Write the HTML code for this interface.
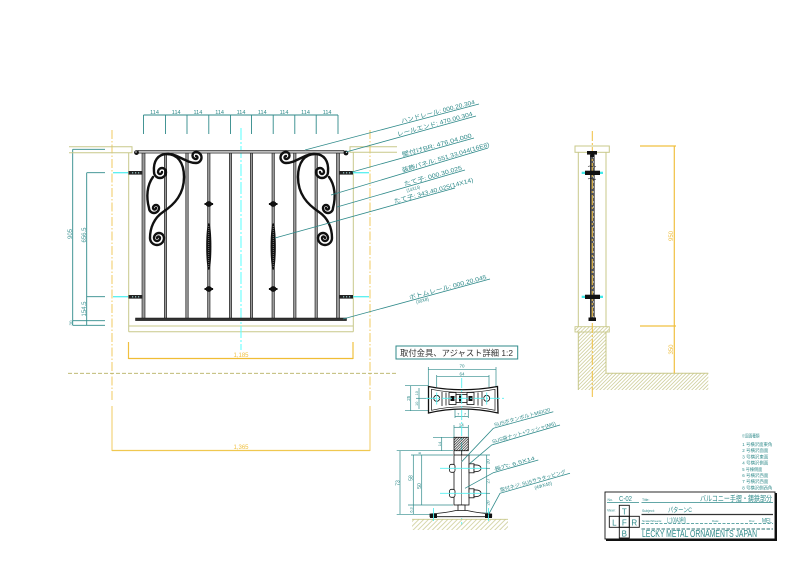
<!DOCTYPE html>
<html><head><meta charset="utf-8">
<style>
html,body{margin:0;padding:0;background:#fff;width:794px;height:561px;overflow:hidden}
svg{display:block}
text{font-family:"Liberation Sans","Noto Sans CJK JP",sans-serif}
</style></head><body>
<svg width="794" height="561" viewBox="0 0 794 561" xmlns="http://www.w3.org/2000/svg">
<defs>
<pattern id="hO" width="2.6" height="2.6" patternUnits="userSpaceOnUse" patternTransform="rotate(45)"><line x1="0.5" y1="0" x2="0.5" y2="2.6" stroke="#c6c68a" stroke-width="0.7"/></pattern>
<pattern id="hG" width="3.4" height="3.4" patternUnits="userSpaceOnUse" patternTransform="rotate(45)"><line x1="0.5" y1="0" x2="0.5" y2="3.4" stroke="#c6c68a" stroke-width="0.7"/></pattern>
<pattern id="hB" width="1.8" height="1.8" patternUnits="userSpaceOnUse" patternTransform="rotate(45)"><line x1="0.5" y1="0" x2="0.5" y2="1.8" stroke="#222" stroke-width="0.7"/></pattern>
<g id="scr" fill="none" stroke="#111" stroke-width="2.4" stroke-linecap="round">
<path d="M162,172 A2,2 0 0 1 158,172 A4,4 0 0 1 166,172 A6,6 0 0 1 154,172 C153,161 158,154 167,154 C177,154 184,162 184,177 C184,194 175,204 163,212 C154,218 150,228 150,238 A7,7 0 0 0 164,238 A5,5 0 0 0 154,238 A3,3 0 0 0 160,238 A1.5,1.5 0 0 0 157,238"/>
<path d="M153,177 C147,185 146,197 149,208 A5,5 0 0 0 159,208 A3,3 0 0 0 153,208 A1.5,1.5 0 0 0 156,208"/>
<path d="M168,154 C178,154 186,163 196,163 A5.5,5.5 0 0 0 196,152 A3.5,3.5 0 0 0 196,159 A1.5,1.5 0 0 0 196,156"/>
</g>
<g id="orn">
<rect x="204.5" y="203" width="8.6" height="2" fill="#111"/>
<ellipse cx="208.8" cy="204" rx="3.2" ry="2.9" fill="#111"/>
<rect x="204.5" y="288" width="8.6" height="2" fill="#111"/>
<ellipse cx="208.8" cy="289" rx="3.2" ry="2.9" fill="#111"/>
<ellipse cx="208.8" cy="246.5" rx="2.6" ry="23.5" fill="#111"/>
<line x1="208.8" y1="226" x2="208.8" y2="267" stroke="#ddd" stroke-width="0.7" stroke-dasharray="0.8 1.2"/>
</g>
</defs>

<!-- ===== top dimension ===== -->
<g stroke="#2f8a8a" stroke-width="0.9">
<line x1="143.5" y1="115" x2="338" y2="115"/>
<line x1="143.5" y1="115" x2="143.5" y2="134"/><line x1="165.5" y1="115" x2="165.5" y2="134"/>
<line x1="187" y1="115" x2="187" y2="134"/><line x1="208.8" y1="115" x2="208.8" y2="134"/>
<line x1="230.5" y1="115" x2="230.5" y2="134"/><line x1="251.5" y1="115" x2="251.5" y2="134"/>
<line x1="273.2" y1="115" x2="273.2" y2="134"/><line x1="294.8" y1="115" x2="294.8" y2="134"/>
<line x1="316.2" y1="115" x2="316.2" y2="134"/><line x1="338" y1="115" x2="338" y2="134"/>
</g>
<g fill="#2f8a8a" font-size="5.5" text-anchor="middle">
<text x="154.5" y="114">114</text><text x="176.2" y="114">114</text><text x="197.9" y="114">114</text>
<text x="219.6" y="114">114</text><text x="241" y="114">114</text><text x="262.3" y="114">114</text>
<text x="284" y="114">114</text><text x="305.5" y="114">114</text><text x="327.1" y="114">114</text>
</g>

<!-- ===== left dims ===== -->
<g stroke="#2f8a8a" stroke-width="0.9">
<line x1="72.7" y1="149.3" x2="105" y2="149.3"/>
<line x1="72.7" y1="149.3" x2="72.7" y2="325.3"/>
<line x1="72.7" y1="320.7" x2="105" y2="320.7"/>
<line x1="72.7" y1="325.3" x2="105" y2="325.3"/>
<line x1="86.7" y1="172.7" x2="105" y2="172.7"/>
<line x1="86.7" y1="296.7" x2="105" y2="296.7"/>
<line x1="86.7" y1="172.7" x2="86.7" y2="325.3"/>
</g>
<g fill="#4a9a9a" font-size="6" text-anchor="middle">
<text transform="translate(72,234) rotate(-90)">905</text>
<text transform="translate(86,235) rotate(-90)">656.5</text>
<text transform="translate(86,309) rotate(-90)">154.5</text>
<text transform="translate(72.5,323) rotate(-90)" font-size="4.5">30</text>
</g>

<!-- ===== yellow dash-dot lines and overall dims ===== -->
<g stroke="#f2cf6e" stroke-width="1.1" fill="none">
<line x1="112" y1="130" x2="112" y2="401" stroke-dasharray="9 2 1.5 2"/>
<line x1="370" y1="130" x2="370" y2="401" stroke-dasharray="9 2 1.5 2"/>
<line x1="112" y1="406" x2="112" y2="451"/>
<line x1="370" y1="406" x2="370" y2="451"/>
<line x1="112" y1="450.5" x2="370" y2="450.5" stroke="#f0c850" stroke-width="1.2"/>
<line x1="128.5" y1="342" x2="128.5" y2="359" stroke="#f0c040" stroke-width="1.2"/>
<line x1="353" y1="342" x2="353" y2="359" stroke="#f0c040" stroke-width="1.2"/>
<line x1="128.5" y1="358.5" x2="353" y2="358.5" stroke="#f0bd35" stroke-width="1.2"/>
</g>
<g fill="#f0c040" font-size="6" text-anchor="middle">
<text x="241" y="357">1,185</text>
<text x="241" y="449">1,365</text>
</g>

<!-- ===== wall outline (olive) ===== -->
<g stroke="#c8c88a" stroke-width="1" fill="none">
<polyline points="69,146.7 132,146.7 132,152.7 69,152.7"/>
<line x1="128.7" y1="152.7" x2="128.7" y2="331.7"/>
<polyline points="397,146.7 350,146.7 350,152.3 397,152.3"/>
<line x1="353.3" y1="152.3" x2="353.3" y2="331.7"/>
<line x1="128.7" y1="326" x2="353.3" y2="326"/>
<line x1="128.7" y1="331.7" x2="353.3" y2="331.7"/>
</g>
<line x1="68" y1="373.3" x2="397" y2="373.3" stroke="#b5b060" stroke-width="0.9" stroke-dasharray="4 2"/>

<!-- cyan center + bracket lines -->
<line x1="241" y1="128" x2="241" y2="350" stroke="#6ff" stroke-width="1.1" stroke-dasharray="12 2 2 2"/>
<g stroke="#55f0f0" stroke-width="1.3">
<line x1="113" y1="172.7" x2="128" y2="172.7"/><line x1="113" y1="296.7" x2="128" y2="296.7"/>
<line x1="353" y1="172.7" x2="369" y2="172.7"/><line x1="353" y1="296.7" x2="369" y2="296.7"/>
</g>

<!-- ===== railing ===== -->
<g fill="#9a9a9a" stroke="#111" stroke-width="0.6">
<rect x="142" y="153" width="3" height="166"/>
<rect x="164.3" y="153" width="2.4" height="166"/>
<rect x="185.8" y="153" width="2.4" height="166"/>
<rect x="207.6" y="153" width="2.4" height="166"/>
<rect x="229.3" y="153" width="2.4" height="166"/>
<rect x="250.3" y="153" width="2.4" height="166"/>
<rect x="272" y="153" width="2.4" height="166"/>
<rect x="293.6" y="153" width="2.4" height="166"/>
<rect x="315" y="153" width="2.4" height="166"/>
<rect x="336.5" y="153" width="3" height="166"/>
</g>
<rect x="138" y="150.3" width="206" height="2.8" fill="#bbb" stroke="#222" stroke-width="0.6"/>
<circle cx="136.5" cy="152.6" r="2.4" fill="#111"/><circle cx="136" cy="152" r="0.7" fill="#fff"/>
<circle cx="346" cy="153" r="2.4" fill="#111"/><circle cx="346.5" cy="152.4" r="0.7" fill="#fff"/>
<rect x="135.5" y="318" width="211" height="2.6" fill="#333" stroke="#111" stroke-width="0.5"/>
<g fill="#222">
<rect x="128.5" y="171" width="14" height="3.6"/><rect x="128.5" y="295" width="14" height="3.6"/>
<rect x="339" y="171" width="14" height="3.6"/><rect x="339" y="295" width="14" height="3.6"/>
</g>
<g fill="#9cc">
<rect x="132" y="172.2" width="1.2" height="1.2"/><rect x="135" y="172.2" width="1.2" height="1.2"/><rect x="138" y="172.2" width="1.2" height="1.2"/>
<rect x="132" y="296.2" width="1.2" height="1.2"/><rect x="135" y="296.2" width="1.2" height="1.2"/><rect x="138" y="296.2" width="1.2" height="1.2"/>
<rect x="343" y="172.2" width="1.2" height="1.2"/><rect x="346" y="172.2" width="1.2" height="1.2"/><rect x="349" y="172.2" width="1.2" height="1.2"/>
<rect x="343" y="296.2" width="1.2" height="1.2"/><rect x="346" y="296.2" width="1.2" height="1.2"/><rect x="349" y="296.2" width="1.2" height="1.2"/>
</g>
<use href="#scr"/>
<use href="#scr" transform="translate(482,0) scale(-1,1)"/>
<use href="#orn"/>
<use href="#orn" transform="translate(64.4,0)"/>

<!-- ===== leaders main ===== -->
<g stroke="#2f8a8a" stroke-width="0.8">
<line x1="305" y1="150" x2="479" y2="104"/>
<line x1="346" y1="152" x2="476" y2="116"/>
<line x1="352" y1="172" x2="474" y2="138"/>
<line x1="331" y1="195" x2="488" y2="148"/>
<line x1="337" y1="207" x2="465" y2="170"/>
<line x1="275" y1="238" x2="455" y2="188"/>
<line x1="343" y1="319" x2="490" y2="279"/>
</g>
<g fill="#2f8a8a" font-size="6">
<text transform="translate(402,124.4) rotate(-14.8)" y="-1.2" textLength="76" lengthAdjust="spacingAndGlyphs">ハンドレール: 000.20.304</text>
<text transform="translate(398,137.6) rotate(-15.5)" y="-1.2" textLength="78" lengthAdjust="spacingAndGlyphs">レールエンド: 470.00.304</text>
<text transform="translate(403,157.8) rotate(-15.6)" y="-1.2" textLength="72" lengthAdjust="spacingAndGlyphs">壁付けBR: 476.04.000</text>
<text transform="translate(403,173.4) rotate(-16.7)" y="-1.2" textLength="91" lengthAdjust="spacingAndGlyphs">装飾パネル: 551.33.044(16E8)</text>
<text transform="translate(405,187.3) rotate(-16.1)" y="-1.2" textLength="60" lengthAdjust="spacingAndGlyphs">たて子: 000.30.025</text>
<text transform="translate(407,192.3) rotate(-16.1)" font-size="4.8" textLength="14" lengthAdjust="spacingAndGlyphs">(14X14)</text>
<text transform="translate(395,204.7) rotate(-15.5)" y="-1.2" textLength="82" lengthAdjust="spacingAndGlyphs">たて子: 343.40.025(14X14)</text>
<text transform="translate(410,300.8) rotate(-15.2)" y="-1.2" textLength="80" lengthAdjust="spacingAndGlyphs">ボトムレール: 000.20.045</text>
<text transform="translate(416.5,303.8) rotate(-15.2)" font-size="4.8" textLength="13" lengthAdjust="spacingAndGlyphs">(30X8)</text>
</g>

<!-- ===== right side view ===== -->
<rect x="578.3" y="332" width="27.7" height="58" fill="url(#hO)"/>
<rect x="606" y="373.3" width="102.3" height="16.7" fill="url(#hO)"/>
<rect x="575" y="326.7" width="34.3" height="5.3" fill="url(#hO)" stroke="#c8c88a" stroke-width="0.9"/>
<g stroke="#c8c88a" stroke-width="1" fill="none">
<rect x="575" y="146" width="34.3" height="6.3"/>
<line x1="578.3" y1="152.3" x2="578.3" y2="326.7"/>
<line x1="606" y1="152.3" x2="606" y2="326.7"/>
<line x1="578.3" y1="332" x2="578.3" y2="390"/>
<polyline points="606,332 606,373.3 708.3,373.3"/>
</g>
<rect x="590.3" y="155" width="4" height="164" fill="#555" stroke="#222" stroke-width="0.6"/>
<line x1="593.4" y1="156" x2="593.4" y2="318" stroke="#fff" stroke-width="0.5" stroke-dasharray="2 3"/>
<line x1="592.3" y1="131" x2="592.3" y2="397" stroke="#f0c040" stroke-width="1" stroke-dasharray="10 2 2 2"/>
<rect x="587" y="151" width="10" height="3.6" fill="#111"/>
<rect x="590.5" y="154" width="3.5" height="3" fill="#111"/>
<g fill="#111">
<rect x="585" y="170.7" width="15" height="4.3"/>
<rect x="585" y="294.7" width="15" height="4.3"/>
<rect x="588.5" y="317.5" width="7.5" height="3.5"/>
</g>
<g fill="#44e8e8">
<rect x="581.7" y="171.7" width="3.3" height="2.3"/><rect x="600" y="171.7" width="3" height="2.3"/>
<rect x="581.7" y="295.7" width="3.3" height="2.3"/><rect x="600" y="295.7" width="3" height="2.3"/>
</g>
<g stroke="#111" stroke-width="0.6" fill="none">
<path d="M588,166.5 q2,-1 4,0 q2,1 4,0"/><path d="M588,179 q2,-1 4,0 q2,1 4,0"/>
</g>
<g stroke="#f0c040" stroke-width="1.2">
<line x1="640" y1="146" x2="676" y2="146"/>
<line x1="640" y1="326" x2="676" y2="326"/>
<line x1="674.3" y1="146" x2="674.3" y2="373.3"/>
</g>
<g fill="#f0c040" font-size="6" text-anchor="middle">
<text transform="translate(673,236) rotate(-90)">950</text>
<text transform="translate(673,349.5) rotate(-90)">350</text>
</g>

<!-- ===== detail section ===== -->
<rect x="396" y="346" width="121.7" height="13" fill="none" stroke="#2f8a8a" stroke-width="1"/>
<text x="400" y="356.2" font-size="8.3" fill="#333" textLength="113" lengthAdjust="spacingAndGlyphs">取付金具、アジャスト詳細 1:2</text>

<g stroke="#2f8a8a" stroke-width="0.7">
<line x1="428.3" y1="369.3" x2="496" y2="369.3"/>
<line x1="428.3" y1="367" x2="428.3" y2="387"/><line x1="496" y1="367" x2="496" y2="387"/>
<line x1="436.7" y1="376.7" x2="489" y2="376.7"/>
<line x1="436.7" y1="375" x2="436.7" y2="387"/><line x1="489" y1="375" x2="489" y2="387"/>
<line x1="410.7" y1="385.7" x2="410.7" y2="410.7"/>
<line x1="405" y1="385.7" x2="428" y2="385.7"/><line x1="405" y1="410.7" x2="428" y2="410.7"/>
<line x1="419" y1="388" x2="419" y2="409"/><line x1="416" y1="398.3" x2="428" y2="398.3"/>
<line x1="455" y1="405" x2="455" y2="418"/><line x1="468.3" y1="405" x2="468.3" y2="418"/>
<line x1="455" y1="416.5" x2="468.3" y2="416.5"/>
<line x1="454" y1="425" x2="454" y2="437"/><line x1="468.3" y1="425" x2="468.3" y2="437"/>
<line x1="454" y1="427.3" x2="468.3" y2="427.3"/>
<line x1="433" y1="437.3" x2="454" y2="437.3"/><line x1="441.7" y1="437.3" x2="441.7" y2="450.7"/>
<line x1="396.7" y1="450.7" x2="453" y2="450.7"/>
<line x1="411" y1="455" x2="453" y2="455"/>
<line x1="408" y1="505" x2="453" y2="505"/>
<line x1="396.7" y1="514.3" x2="430" y2="514.3"/>
<line x1="400" y1="450.7" x2="400" y2="514.3"/>
<line x1="413.3" y1="455" x2="413.3" y2="514.3"/>
<line x1="421.7" y1="455" x2="421.7" y2="505"/>
<line x1="486.7" y1="455" x2="486.7" y2="513"/>
<line x1="469" y1="455" x2="490" y2="455"/>
<line x1="482" y1="468.3" x2="490" y2="468.3"/>
<line x1="482" y1="493.3" x2="490" y2="493.3"/>
<line x1="482" y1="513" x2="490" y2="513"/>
</g>
<g fill="#2f8a8a" font-size="4.5" text-anchor="middle">
<text x="462" y="367.6">70</text>
<text x="462" y="375.3">64</text>
<text transform="translate(409.8,398.3) rotate(-90)">25</text>
<text transform="translate(418.2,393.3) rotate(-90)" font-size="3.8">10</text>
<text transform="translate(418.2,403.8) rotate(-90)" font-size="3.8">10</text>
<text x="458.3" y="415.6" font-size="4">7</text>
<text x="465" y="415.6" font-size="4">7</text>
<text x="461.2" y="426.3">14</text>
<text transform="translate(440.8,444) rotate(-90)" font-size="4">14</text>
<text transform="translate(399.3,483) rotate(-90)" font-size="5">73</text>
<text transform="translate(412.6,478) rotate(-90)" font-size="5">58</text>
<text transform="translate(421,486) rotate(-90)" font-size="5">50</text>
<text transform="translate(420.8,453.2) rotate(-90)" font-size="3.8">8</text>
<text transform="translate(412.3,510) rotate(-90)" font-size="3.8">6.3</text>
<text transform="translate(489.6,461.6) rotate(-90)">20</text>
<text transform="translate(489.6,481) rotate(-90)">27</text>
<text transform="translate(489.6,503) rotate(-90)">20</text>
</g>

<!-- plan bracket -->
<path d="M428.5,386.5 Q462,393 497.5,386.5 L498,413 Q462,405 428.5,413 Z" fill="#fff" stroke="#111" stroke-width="1.3"/>
<path d="M431.5,389.3 Q462,395.5 495,389.3 L495,410.3 Q462,403.3 431.5,410.3 Z" fill="none" stroke="#111" stroke-width="0.7"/>
<g stroke="#111" stroke-width="0.8" fill="none">
<line x1="442" y1="392" x2="442" y2="406"/><line x1="446" y1="392.5" x2="446" y2="405.5"/>
<line x1="478" y1="392.5" x2="478" y2="405.5"/><line x1="482" y1="392" x2="482" y2="406"/>
<circle cx="436.7" cy="398.3" r="3"/><circle cx="486.7" cy="398.3" r="3"/>
<rect x="449" y="392.5" width="7" height="12"/><rect x="467" y="392.5" width="7" height="12"/>
<rect x="456" y="394.5" width="11" height="8"/>
</g>
<g fill="#111"><rect x="450.5" y="396" width="4" height="5"/><rect x="468.5" y="396" width="4" height="5"/><rect x="459" y="395.5" width="2" height="6"/></g>
<g stroke="#55f0f0" stroke-width="0.9">
<line x1="426" y1="398.3" x2="505" y2="398.3" stroke-dasharray="10 2 2 2"/>
<line x1="461.7" y1="378" x2="461.7" y2="525" stroke-dasharray="10 2 2 2"/>
<line x1="436.7" y1="392.5" x2="436.7" y2="404.5"/>
<line x1="486.7" y1="392.5" x2="486.7" y2="404.5"/>
</g>

<!-- section -->
<rect x="412" y="519.3" width="96" height="10.7" fill="url(#hG)"/>
<line x1="412" y1="519.3" x2="508" y2="519.3" stroke="#c8c88a" stroke-width="0.9"/>
<rect x="454" y="437.3" width="14.3" height="13.4" fill="url(#hB)" stroke="#111" stroke-width="0.8"/>
<g stroke="#111" stroke-width="0.8" fill="#fff">
<line x1="454" y1="450.7" x2="454" y2="455"/><line x1="461.7" y1="450.7" x2="461.7" y2="455"/>
<rect x="454" y="455" width="15" height="50"/>
<line x1="461.7" y1="455" x2="461.7" y2="505" stroke-width="0.5"/>
<rect x="458" y="505" width="7" height="6"/>
<path d="M430,516.7 L491.7,516.7 L491.7,514 Q478,513 467,510.5 L456,510.5 Q445,513 430,514 Z"/>
<rect x="449.5" y="464.3" width="5.5" height="8" rx="2"/>
<rect x="469" y="463.8" width="5" height="9"/>
<path d="M474,464.8 Q481,464.8 481,468.3 Q481,471.8 474,471.8 Z"/>
<rect x="449.5" y="489.3" width="5.5" height="8" rx="2"/>
<rect x="469" y="488.8" width="5" height="9"/>
<path d="M474,489.8 Q481,489.8 481,493.3 Q481,496.8 474,496.8 Z"/>
</g>
<g fill="#111"><rect x="430" y="514" width="7" height="4"/><rect x="485" y="514" width="7" height="4"/></g>
<g stroke="#55f0f0" stroke-width="0.9">
<line x1="440" y1="468.3" x2="486" y2="468.3"/><line x1="440" y1="493.3" x2="486" y2="493.3"/>
<line x1="433.5" y1="508" x2="433.5" y2="521"/><line x1="488.5" y1="508" x2="488.5" y2="521"/>
</g>

<!-- detail leaders -->
<g stroke="#2f8a8a" stroke-width="0.8" fill="none">
<polyline points="461.7,461.7 493.3,428.3 553.3,411.7"/>
<polyline points="470,463.3 491.7,445 560,425"/>
<polyline points="465,488.3 493.3,472.7 538.3,460"/>
<polyline points="488.3,515 500,493.3 570,473.3"/>
</g>
<g fill="#2f8a8a" font-size="5">
<text transform="translate(495,427.8) rotate(-15.5)" y="-1.2" textLength="58" lengthAdjust="spacingAndGlyphs">SUSボタンボルトM6X20</text>
<text transform="translate(493,444.6) rotate(-16.3)" y="-1.2" textLength="66" lengthAdjust="spacingAndGlyphs">SUS袋ナット+ワッシャ(M6)</text>
<text transform="translate(495,472.2) rotate(-15.8)" y="-1.2" textLength="42" lengthAdjust="spacingAndGlyphs">長穴: 6.5X14</text>
<text transform="translate(501,493) rotate(-15.9)" y="-1.2" textLength="68" lengthAdjust="spacingAndGlyphs">取付ネジ: SUSサラタッピング</text>
<text transform="translate(535,489.5) rotate(-15.9)" textLength="18" lengthAdjust="spacingAndGlyphs">(4ΦX40)</text>
</g>

<!-- ===== legend ===== -->
<g fill="#2f8a8a" font-size="4.3">
<text x="741.5" y="437.5" textLength="18" lengthAdjust="spacingAndGlyphs">※図面種類</text>
<text x="742.3" y="446" textLength="30" lengthAdjust="spacingAndGlyphs">1 号横沢面東角</text>
<text x="742.3" y="452.2" textLength="26" lengthAdjust="spacingAndGlyphs">2 号横沢面面</text>
<text x="742.3" y="458.4" textLength="26" lengthAdjust="spacingAndGlyphs">3 号横沢東面</text>
<text x="742.3" y="464.6" textLength="26" lengthAdjust="spacingAndGlyphs">4 号横沢側面</text>
<text x="742.3" y="470.8" textLength="20" lengthAdjust="spacingAndGlyphs">5 号棟側面</text>
<text x="742.3" y="477" textLength="26" lengthAdjust="spacingAndGlyphs">6 号横沢西面</text>
<text x="742.3" y="483.2" textLength="26" lengthAdjust="spacingAndGlyphs">7 号横沢西面</text>
<text x="742.3" y="489.4" textLength="30" lengthAdjust="spacingAndGlyphs">8 号横沢側西角</text>
</g>

<!-- ===== title block ===== -->
<rect x="605" y="492" width="170" height="47" fill="none" stroke="#111" stroke-width="0.9"/>
<rect x="606" y="538.5" width="171" height="2.5" fill="#111"/>
<rect x="774.8" y="493" width="2.2" height="48" fill="#111"/>
<g fill="#2f8a8a">
<text x="607.5" y="501" font-size="3.5">No.</text>
<text x="619" y="501" font-size="7" textLength="13" lengthAdjust="spacingAndGlyphs">C-02</text>
<text x="642" y="501" font-size="3.5">Title:</text>
<text x="700" y="501" font-size="7.5" textLength="72" lengthAdjust="spacingAndGlyphs">バルコニー手摺・鋳鉄部分</text>
<text x="607" y="511.5" font-size="3.5">View:</text>
<text x="642" y="512" font-size="3.5">Subject:</text>
<text x="668" y="512" font-size="6.5" textLength="24" lengthAdjust="spacingAndGlyphs">パターンC</text>
<text x="642" y="522" font-size="3" textLength="20" lengthAdjust="spacingAndGlyphs">Scale/Sheets:</text>
<text x="667" y="522.3" font-size="7" textLength="19" lengthAdjust="spacingAndGlyphs">L:10(A3判)</text>
<text x="712" y="522" font-size="3">Date:</text>
<text x="749" y="522" font-size="3">Drw.</text>
<text x="762" y="522.3" font-size="6" textLength="10" lengthAdjust="spacingAndGlyphs">MEL</text>
<text x="642" y="537" font-size="10" textLength="115" lengthAdjust="spacingAndGlyphs">LECKY METAL ORNAMENTS JAPAN</text>
<g font-size="8" text-anchor="middle">
<text x="624.3" y="514.5">T</text>
<text x="614.3" y="525.5">L</text>
<text x="624.3" y="525.5">F</text>
<text x="634.3" y="525.5">R</text>
<text x="624.3" y="536.3">B</text>
</g>
</g>
<g stroke="#2f8a8a" stroke-width="0.7">
<line x1="607" y1="502.5" x2="639" y2="502.5"/>
<line x1="641.5" y1="502.5" x2="773" y2="502.5"/>
<line x1="641.5" y1="523.5" x2="773" y2="523.5" stroke-dasharray="3 1.5"/>
<line x1="641.5" y1="529" x2="773" y2="529" stroke="#2a7070" stroke-width="0.9" stroke-dasharray="3.5 1.5"/>
</g>
<line x1="641.5" y1="514.5" x2="773" y2="514.5" stroke="#333" stroke-width="1.3"/>
<g stroke="#111" stroke-width="0.9" fill="none">
<rect x="619.3" y="505.3" width="10" height="11"/>
<rect x="609.3" y="516.3" width="10" height="11"/>
<rect x="619.3" y="516.3" width="10" height="11"/>
<rect x="629.3" y="516.3" width="10" height="11"/>
<rect x="619.3" y="527.3" width="10" height="10.7"/>
</g>
</svg>
</body></html>
